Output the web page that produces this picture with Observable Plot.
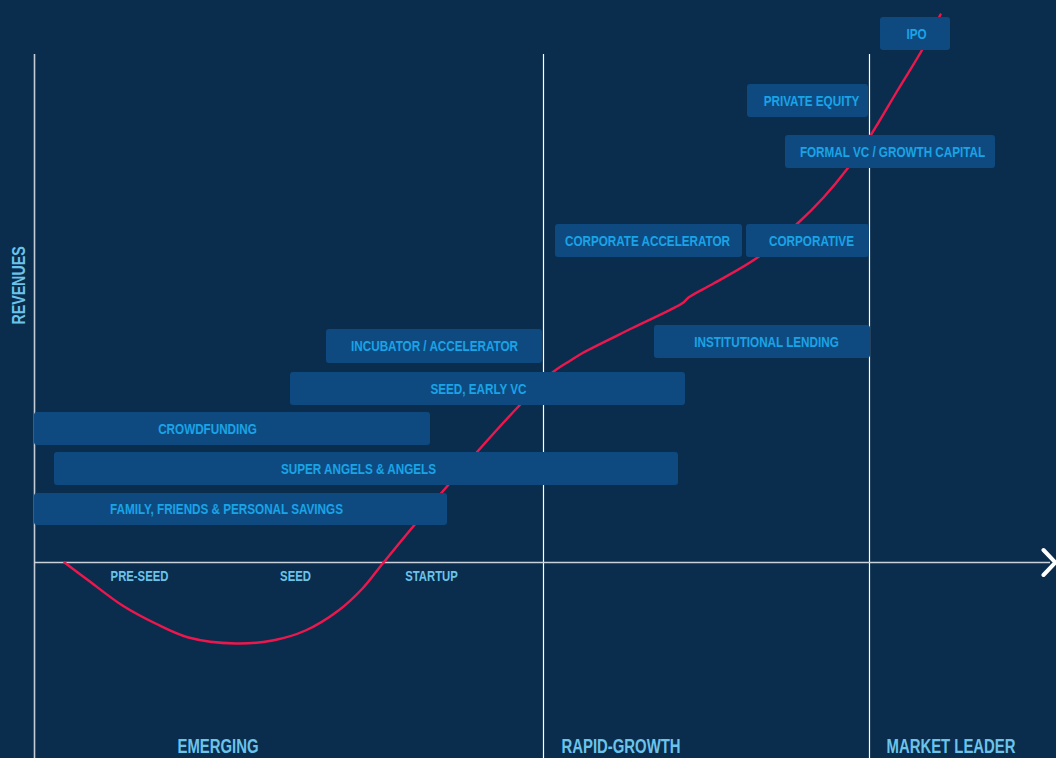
<!DOCTYPE html>
<html>
<head>
<meta charset="utf-8">
<script src="https://cdn.jsdelivr.net/npm/d3@7"></script>
<script src="https://cdn.jsdelivr.net/npm/@observablehq/plot@0.6"></script>
<style>
  html, body { margin: 0; padding: 0; background: #0a2d4d; overflow: hidden; }
  #chart svg { display: block; }
</style>
</head>
<body>
<div id="chart"></div>
<script>
// Funding sources (bars): label, x range (stage time), y range (revenue level), label centre
const barLabels = ["IPO", "PRIVATE EQUITY", "FORMAL VC / GROWTH CAPITAL", "CORPORATE ACCELERATOR", "CORPORATIVE",
  "INSTITUTIONAL LENDING", "INCUBATOR / ACCELERATOR", "SEED, EARLY VC", "CROWDFUNDING",
  "SUPER ANGELS & ANGELS", "FAMILY, FRIENDS & PERSONAL SAVINGS"];
const barStart = [84.6, 71.3, 75.1, 52.1, 71.2, 62.0, 29.2, 25.6, 0.0, 2.0, 0.0];
const barEnd   = [91.6, 83.4, 96.1, 70.8, 83.5, 83.6, 50.8, 65.1, 39.6, 64.4, 41.3];
const barLow   = [51.2, 44.5, 39.4, 30.5, 30.5, 20.4, 19.9, 15.7, 11.7, 7.7, 3.7];
const barHigh  = [54.5, 47.8, 42.7, 33.8, 33.8, 23.7, 23.3, 19.0, 15.0, 11.0, 6.9];
const barLabelX = [88.2, 77.7, 85.8, 61.3, 77.7, 73.2, 40.0, 44.4, 17.3, 32.4, 19.2];

// Revenue curve (time, revenue)
const curveX = [3.0, 5.4, 8.8, 12.1, 15.4, 20.1, 23.8, 27.1, 30.4, 32.8, 34.9, 40.9, 48.3, 51.8, 53.6, 54.9, 59.9, 64.9, 65.4, 67.9, 72.3, 76.3, 78.9, 81.3, 83.6, 86.3, 88.9, 90.6];
const curveY = [0, -1.8, -4.3, -6.1, -7.5, -8.1, -7.8, -6.8, -4.8, -2.6, 0, 7.2, 15.5, 19.0, 20.2, 21.0, 23.5, 26.0, 26.5, 27.9, 30.5, 33.9, 36.5, 39.4, 42.7, 47.2, 51.5, 54.8];

// Sub-stage tick labels
const tickLabels = ["PRE-SEED", "SEED", "STARTUP"];
const tickX = [10.5, 26.1, 39.7];

// Stages
const stageLabels = ["EMERGING", "RAPID-GROWTH", "MARKET LEADER"];
const stageStart = [0, 50.9, 83.5];
const stageLabelX = [14.3, 52.7, 85.2];

const xDomain = [-3.4, 102.2];
const yDomain = [-19.6, 56.2];
const lineTop = 50.8;
const axisEnd = 101.6;

const bars = barLabels.map((label, i) => ({label, x1: barStart[i], x2: barEnd[i], y1: barLow[i], y2: barHigh[i], lx: barLabelX[i]}));
const curve = curveX.map((x, i) => ({x, y: curveY[i]}));
const ticks = tickLabels.map((t, i) => ({t, x: tickX[i]}));
const stages = stageLabels.map((t, i) => ({t, x: stageStart[i], lx: stageLabelX[i]}));

const font = "'Liberation Sans', Arial, sans-serif";
const BG = "#0a2d4d", BAR = "#0e4a80", BARTXT = "#1aa3e6", AXTXT = "#6cc3ea", RED = "#ee174d";

const chart = Plot.plot({
  width: 1056,
  height: 758,
  margin: 0,
  x: {domain: xDomain, axis: null},
  y: {domain: yDomain, axis: null},
  style: {background: BG, fontFamily: font},
  marks: [
    Plot.ruleX(stages, {x: "x", y1: yDomain[0], y2: lineTop, stroke: (d, i) => i === 0 ? "#c3ccd6" : "#ffffff", strokeWidth: (d, i) => i === 0 ? 1.6 : 1.2}),
    Plot.ruleY([0], {x1: 0, x2: axisEnd, stroke: "#c9d2db", strokeWidth: 1.6}),
    Plot.line([[axisEnd - 0.7, 1.25], [axisEnd + 0.5, 0], [axisEnd - 0.7, -1.25]], {stroke: "#ffffff", strokeWidth: 4, strokeLinejoin: "miter"}),
    Plot.line(curve, {x: "x", y: "y", curve: "catmull-rom", stroke: RED, strokeWidth: 2.4}),
    Plot.rect(bars, {x1: "x1", x2: "x2", y1: "y1", y2: "y2", fill: BAR, rx: 3}),
    Plot.text(bars, {x: "lx", y: d => (d.y1 + d.y2) / 2, text: "label", fill: BARTXT, fontSize: 15.4, fontWeight: "bold", fontFamily: font}),
    Plot.text(ticks, {x: "x", y: -1.4, text: "t", fill: AXTXT, fontSize: 14.5, fontWeight: "bold", fontFamily: font}),
    Plot.text(stages, {x: "lx", y: -18.4, text: "t", textAnchor: "start", fill: AXTXT, fontSize: 19.6, fontWeight: "bold", fontFamily: font}),
    Plot.text(["REVENUES"], {x: -1.55, y: 27.7, text: d => d, rotate: -90, fill: AXTXT, fontSize: 18, fontWeight: "bold", fontFamily: font})
  ]
});

// Condense the text horizontally (along the text direction) to mimic a condensed typeface
d3.select(chart).selectAll("text").each(function() {
  const t = this.getAttribute("transform") || "";
  const sx = this.textContent === "REVENUES" ? 0.79 : (["PRE-SEED", "SEED", "STARTUP"].includes(this.textContent) ? 0.78 : 0.76);
  if (t) this.setAttribute("transform", t + ` scale(${sx},1)`);
});
document.getElementById("chart").appendChild(chart);
</script>
</body>
</html>
